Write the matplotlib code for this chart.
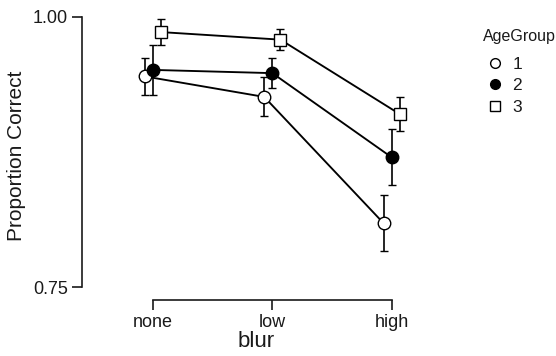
import matplotlib

matplotlib.use("Agg")

import matplotlib.pyplot as plt  # noqa: E402
from matplotlib.lines import Line2D  # noqa: E402

plt.rcParams["font.family"] = ["Liberation Sans", "DejaVu Sans"]

BLUR_LEVELS = ["none", "low", "high"]
AGE_GROUPS = ["1", "2", "3"]

# proportion correct per age group, one value per blur level
MEANS = {
    "1": [0.945, 0.926, 0.809],
    "2": [0.951, 0.948, 0.870],
    "3": [0.986, 0.979, 0.910],
}
# error bar half-widths
ERRS = {
    "1": [0.017, 0.018, 0.026],
    "2": [0.023, 0.014, 0.026],
    "3": [0.012, 0.010, 0.016],
}

MARKERS = {"1": ("o", "white"), "2": ("o", "black"), "3": ("s", "white")}
DODGE = {"1": -0.068, "2": 0.0, "3": 0.068}
TEXT = "#1a1a1a"

fig = plt.figure(figsize=(5.56, 3.56), dpi=100)
ax = fig.add_axes([82 / 556, 56 / 356, 348 / 556, 288 / 356])

for g in AGE_GROUPS:
    xs = [i + DODGE[g] for i in range(len(BLUR_LEVELS))]
    marker, face = MARKERS[g]
    ax.errorbar(
        xs, MEANS[g], yerr=ERRS[g], color="black", linewidth=1.35,
        elinewidth=1.2, capsize=3, capthick=1.2,
        marker=marker, markersize=9 if marker == "o" else 8.5,
        markerfacecolor=face, markeredgecolor="black", markeredgewidth=1.0,
        zorder=3,
    )

ax.set_xlim(-0.594, 2.32)
ax.set_ylim(0.738, 1.0046)
ax.set_xticks(range(len(BLUR_LEVELS)))
ax.set_xticklabels(BLUR_LEVELS)
ax.set_yticks([0.75, 1.00])
ax.set_yticklabels(["0.75", "1.00"])

for side in ("top", "right"):
    ax.spines[side].set_visible(False)
ax.spines["left"].set_bounds(0.75, 1.00)
ax.spines["bottom"].set_bounds(0, 2)
for side in ("left", "bottom"):
    ax.spines[side].set_linewidth(1.2)
    ax.spines[side].set_color(TEXT)

ax.tick_params(length=7, width=1.2, color=TEXT, labelsize=13,
               labelcolor=TEXT, pad=3)
ax.set_xlabel("blur", fontsize=16, color=TEXT, labelpad=0)
ax.set_ylabel("Proportion Correct", fontsize=15, color=TEXT, labelpad=5)

# legend: title as its own text so the entries sit indented below it
fig.text(483 / 556, 1 - 37 / 356, "AgeGroup", fontsize=11.5, color=TEXT,
         ha="left", va="center")
handles = [
    Line2D([], [], linestyle="none", marker=MARKERS[g][0], markersize=7,
           markerfacecolor=MARKERS[g][1], markeredgecolor="black",
           markeredgewidth=1.0)
    for g in AGE_GROUPS
]
leg = fig.legend(
    handles, AGE_GROUPS, loc="upper left",
    bbox_to_anchor=(488 / 556, 1 - 57 / 356), frameon=False,
    fontsize=12.5, handlelength=0.8, handletextpad=0.6,
    labelspacing=0.35, borderaxespad=0, borderpad=0,
)
for t in leg.get_texts():
    t.set_color(TEXT)

fig.savefig("out.png", dpi=100)
